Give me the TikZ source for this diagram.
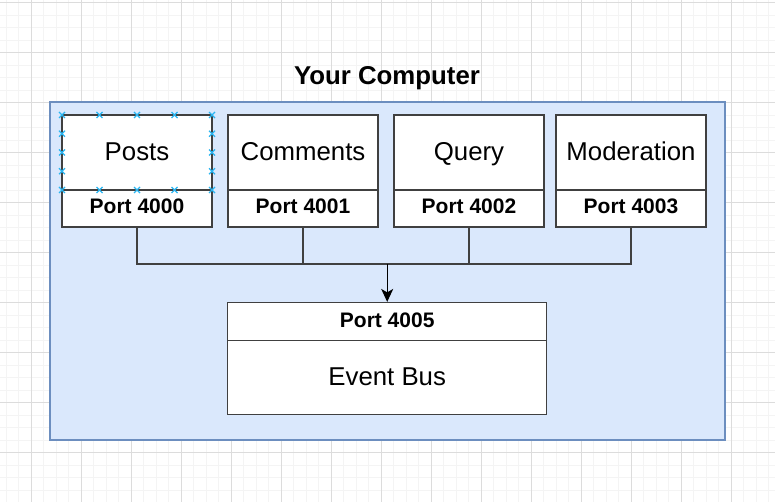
\documentclass[tikz,border=0pt]{standalone}
\usepackage{fontspec}
\setmainfont{Liberation Sans}
\usetikzlibrary{arrows.meta}
\definecolor{bluefill}{HTML}{DAE8FC}
\definecolor{blueline}{HTML}{6C8EBF}
\definecolor{boxline}{HTML}{404040}
\definecolor{gridminor}{HTML}{F4F4F4}
\definecolor{gridmajor}{HTML}{DCDCDC}
\definecolor{handle}{HTML}{29B6F2}
\begin{document}
\begin{tikzpicture}[x=1pt,y=-1pt,
  hdr/.style={draw=boxline, line width=1.2pt, fill=white, minimum width=150pt, minimum height=75pt, inner sep=0pt, text height=18pt, text depth=2pt, font=\fontsize{25.8}{30}\selectfont},
  prt/.style={draw=boxline, line width=1.2pt, fill=white, minimum width=150pt, minimum height=37pt, inner sep=0pt, text height=15pt, text depth=4pt, font=\fontsize{21}{24}\selectfont\bfseries},
  link/.style={draw=boxline, line width=1.2pt},
  arrowlink/.style={draw=black, line width=1.4pt, -{Stealth[length=13pt,width=12pt,inset=3.5pt]}},
  handlemark/.style={draw=handle, line width=1.2pt}
]
\useasboundingbox (0,0) rectangle (775,502);
\fill[white] (0,0) rectangle (775,502);
% grid
\foreach \gx in {6.3,18.8,...,775} \draw[gridminor, line width=0.8pt] (\gx,0) -- (\gx,502);
\foreach \gy in {2.7,15.2,...,502} \draw[gridminor, line width=0.8pt] (0,\gy) -- (775,\gy);
\foreach \gx in {31.3,81.3,...,775} \draw[gridmajor, line width=0.8pt] (\gx,0) -- (\gx,502);
\foreach \gy in {2.7,52.7,...,502} \draw[gridmajor, line width=0.8pt] (0,\gy) -- (775,\gy);

% container
\node (comp) [draw=blueline, fill=bluefill, line width=1.2pt, minimum width=675pt, minimum height=338pt, inner sep=0pt] at (387.5,271) {};
\node (title) [anchor=base, inner sep=0pt] at (387,85) {\fontsize{25.8}{30}\selectfont\bfseries Your Computer};

% services
\node (posts) [hdr] at (137,152.5) {Posts};
\node (postsport) [prt] at (137,208.5) {Port 4000};
\node (comments) [hdr] at (303,152.5) {Comments};
\node (commentsport) [prt] at (303,208.5) {Port 4001};
\node (query) [hdr] at (469,152.5) {Query};
\node (queryport) [prt] at (469,208.5) {Port 4002};
\node (moder) [hdr] at (631,152.5) {Moderation};
\node (moderport) [prt] at (631,208.5) {Port 4003};

% event bus
\node (busport) [prt, minimum width=319pt, minimum height=38pt] at (387.2,321.5) {Port 4005};
\node (bus) [hdr, minimum width=319pt, minimum height=74.5pt] at (387.2,377.5) {Event Bus};

% connectors
\coordinate (junction) at (387.2,264);
\draw[link] (postsport.south) |- (junction);
\draw[link] (commentsport.south) |- (junction);
\draw[link] (queryport.south) |- (junction);
\draw[link] (moderport.south) |- (junction);
\draw[arrowlink] (junction) -- (busport.north);

% selection handles on Posts
\foreach \hx in {62,99.5,137,174.5,212}
  \foreach \hy in {115,190}
    \draw[handlemark] ({\hx-3},{\hy-3}) -- ({\hx+3},{\hy+3}) ({\hx-3},{\hy+3}) -- ({\hx+3},{\hy-3});
\foreach \hx in {62,212}
  \foreach \hy in {133.75,152.5,171.25}
    \draw[handlemark] ({\hx-3},{\hy-3}) -- ({\hx+3},{\hy+3}) ({\hx-3},{\hy+3}) -- ({\hx+3},{\hy-3});
\end{tikzpicture}
\end{document}
